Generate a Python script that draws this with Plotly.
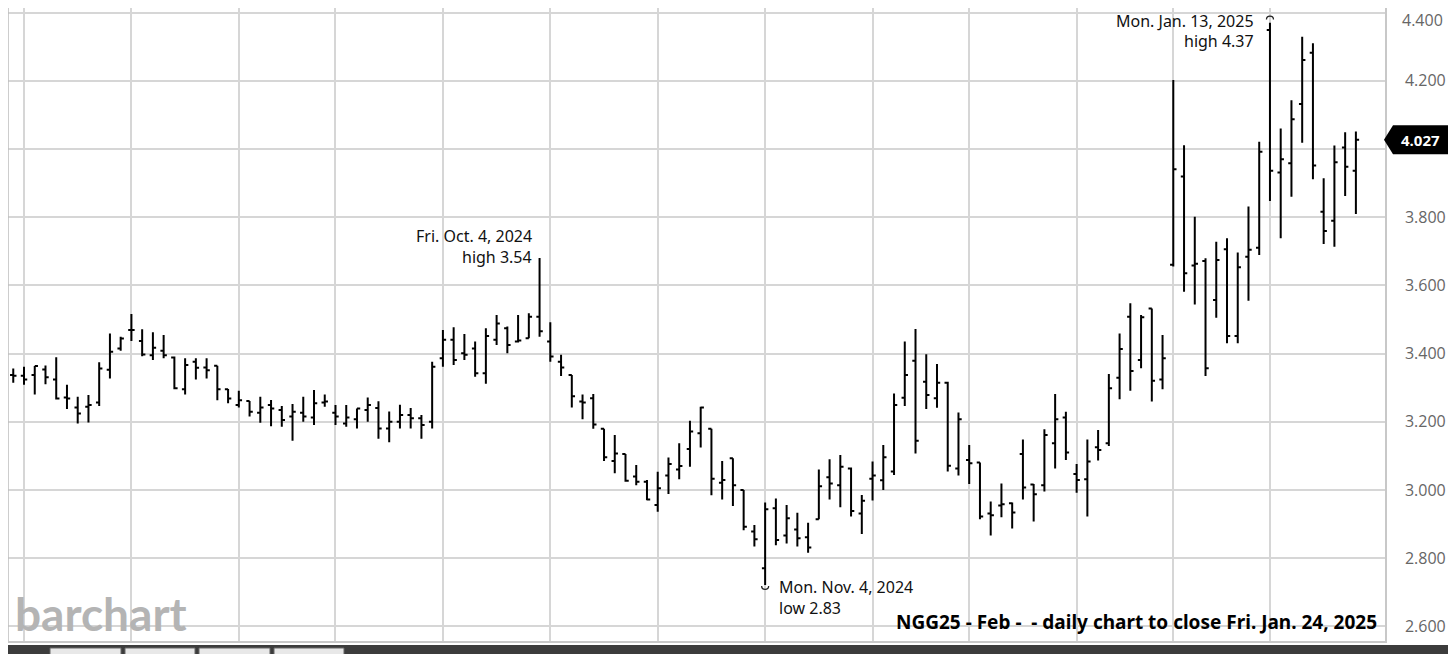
import plotly.graph_objects as go

dates = [
    "2024-07-26", "2024-07-29", "2024-07-30", "2024-07-31",
    "2024-08-01", "2024-08-02", "2024-08-05", "2024-08-06", "2024-08-07", "2024-08-08", "2024-08-09",
    "2024-08-12", "2024-08-13", "2024-08-14", "2024-08-15", "2024-08-16", "2024-08-19", "2024-08-20",
    "2024-08-21", "2024-08-22", "2024-08-23", "2024-08-26", "2024-08-27", "2024-08-28", "2024-08-29",
    "2024-08-30",
    "2024-09-03", "2024-09-04", "2024-09-05", "2024-09-06", "2024-09-09", "2024-09-10", "2024-09-11",
    "2024-09-12", "2024-09-13", "2024-09-16", "2024-09-17", "2024-09-18", "2024-09-19", "2024-09-20",
    "2024-09-23", "2024-09-24", "2024-09-25", "2024-09-26", "2024-09-27", "2024-09-30",
    "2024-10-01", "2024-10-02", "2024-10-03", "2024-10-04", "2024-10-07", "2024-10-08", "2024-10-09",
    "2024-10-10", "2024-10-11", "2024-10-14", "2024-10-15", "2024-10-16", "2024-10-17", "2024-10-18",
    "2024-10-21", "2024-10-22", "2024-10-23", "2024-10-24", "2024-10-25", "2024-10-28", "2024-10-29",
    "2024-10-30", "2024-10-31",
    "2024-11-01", "2024-11-04", "2024-11-05", "2024-11-06", "2024-11-07", "2024-11-08", "2024-11-11",
    "2024-11-12", "2024-11-13", "2024-11-14", "2024-11-15", "2024-11-18", "2024-11-19", "2024-11-20",
    "2024-11-21", "2024-11-22", "2024-11-25", "2024-11-26", "2024-11-27", "2024-11-29",
    "2024-12-02", "2024-12-03", "2024-12-04", "2024-12-05", "2024-12-06", "2024-12-09", "2024-12-10",
    "2024-12-11", "2024-12-12", "2024-12-13", "2024-12-16", "2024-12-17", "2024-12-18", "2024-12-19",
    "2024-12-20", "2024-12-23", "2024-12-24", "2024-12-26", "2024-12-27", "2024-12-30", "2024-12-31",
    "2025-01-02", "2025-01-03", "2025-01-06", "2025-01-07", "2025-01-08", "2025-01-09", "2025-01-10",
    "2025-01-13", "2025-01-14", "2025-01-15", "2025-01-16", "2025-01-17", "2025-01-21", "2025-01-22",
    "2025-01-23", "2025-01-24",
]

opens = [
    3.337, 3.335, 3.337, 3.353, 3.324, 3.271, 3.242, 3.244, 3.256, 3.352,
    3.415, 3.469, 3.437, 3.395, 3.408, 3.388, 3.295, 3.376, 3.359, 3.364,
    3.295, 3.249, 3.261, 3.226, 3.249, 3.234, 3.215, 3.226, 3.212, 3.256,
    3.226, 3.195, 3.207, 3.234, 3.240, 3.180, 3.200, 3.220, 3.210, 3.200,
    3.386, 3.440, 3.401, 3.415, 3.342, 3.440, 3.474, 3.435, 3.445, 3.508,
    3.435, 3.376, 3.337, 3.259, 3.269, 3.179, 3.085, 3.105, 3.039, 3.024,
    2.956, 3.042, 3.060, 3.120, 3.166, 3.179, 3.021, 3.093, 3.000, 2.878,
    2.770, 2.946, 2.866, 2.884, 2.861, 2.914, 3.037, 3.014, 3.063, 2.931,
    3.033, 3.028, 3.054, 3.270, 3.379, 3.317, 3.269, 3.314, 3.063, 3.088,
    3.080, 2.931, 2.954, 2.961, 3.105, 3.016, 3.014, 3.137, 3.212, 3.047,
    3.031, 3.125, 3.137, 3.329, 3.508, 3.381, 3.532, 3.324, 3.660, 3.919,
    3.658, 3.671, 3.557, 3.706, 3.451, 3.684, 3.710, 4.349, 3.931, 3.958,
    4.132, 4.282, 3.816, 3.789, 4.004, 3.936,
]
highs = [
    3.356, 3.361, 3.363, 3.365, 3.389, 3.308, 3.273, 3.278, 3.374, 3.459,
    3.449, 3.516, 3.471, 3.462, 3.454, 3.391, 3.386, 3.386, 3.386, 3.364,
    3.296, 3.291, 3.261, 3.273, 3.264, 3.246, 3.252, 3.273, 3.293, 3.280,
    3.249, 3.249, 3.239, 3.271, 3.260, 3.230, 3.250, 3.240, 3.220, 3.376,
    3.469, 3.477, 3.457, 3.435, 3.474, 3.513, 3.479, 3.513, 3.518, 3.680,
    3.492, 3.396, 3.337, 3.280, 3.281, 3.179, 3.161, 3.105, 3.073, 3.029,
    3.053, 3.095, 3.137, 3.203, 3.244, 3.179, 3.085, 3.093, 3.000, 2.897,
    2.963, 2.975, 2.956, 2.933, 2.904, 3.060, 3.090, 3.102, 3.066, 2.985,
    3.083, 3.132, 3.283, 3.435, 3.472, 3.398, 3.369, 3.317, 3.227, 3.132,
    3.080, 2.966, 3.019, 2.963, 3.148, 3.017, 3.178, 3.281, 3.229, 3.076,
    3.148, 3.176, 3.340, 3.459, 3.547, 3.513, 3.532, 3.454, 4.202, 4.011,
    3.801, 3.679, 3.728, 3.738, 3.696, 3.831, 4.021, 4.370, 4.060, 4.143,
    4.329, 4.310, 3.914, 4.010, 4.049, 4.051,
]
lows = [
    3.314, 3.308, 3.280, 3.310, 3.265, 3.237, 3.195, 3.198, 3.246, 3.327,
    3.408, 3.437, 3.392, 3.381, 3.386, 3.295, 3.280, 3.324, 3.327, 3.263,
    3.254, 3.242, 3.215, 3.197, 3.187, 3.185, 3.144, 3.200, 3.190, 3.244,
    3.190, 3.185, 3.180, 3.200, 3.150, 3.140, 3.180, 3.180, 3.150, 3.180,
    3.361, 3.366, 3.381, 3.332, 3.311, 3.425, 3.401, 3.432, 3.445, 3.449,
    3.376, 3.334, 3.242, 3.207, 3.179, 3.085, 3.049, 3.024, 3.014, 2.970,
    2.936, 2.988, 3.031, 3.068, 3.124, 2.984, 2.972, 2.953, 2.882, 2.834,
    2.721, 2.838, 2.843, 2.834, 2.816, 2.914, 2.972, 2.949, 2.922, 2.871,
    2.969, 3.000, 3.044, 3.246, 3.107, 3.237, 3.241, 3.054, 3.042, 3.017,
    2.914, 2.866, 2.920, 2.887, 2.972, 2.907, 2.995, 3.063, 3.088, 2.992,
    2.922, 3.086, 3.129, 3.266, 3.291, 3.357, 3.259, 3.295, 3.655, 3.581,
    3.544, 3.334, 3.505, 3.430, 3.430, 3.555, 3.689, 3.847, 3.738, 3.860,
    4.018, 3.911, 3.721, 3.713, 3.862, 3.809,
]
closes = [
    3.335, 3.324, 3.363, 3.330, 3.268, 3.268, 3.224, 3.249, 3.356, 3.405,
    3.444, 3.469, 3.397, 3.417, 3.395, 3.298, 3.366, 3.358, 3.351, 3.295,
    3.268, 3.263, 3.229, 3.242, 3.239, 3.205, 3.229, 3.215, 3.254, 3.259,
    3.215, 3.212, 3.239, 3.249, 3.180, 3.200, 3.220, 3.210, 3.190, 3.361,
    3.440, 3.381, 3.396, 3.342, 3.451, 3.488, 3.425, 3.438, 3.508, 3.465,
    3.391, 3.359, 3.275, 3.256, 3.192, 3.096, 3.107, 3.027, 3.024, 2.972,
    3.005, 3.076, 3.070, 3.171, 3.242, 3.033, 3.029, 3.014, 2.892, 2.855,
    2.943, 2.853, 2.917, 2.858, 2.831, 3.011, 3.019, 3.068, 2.938, 2.968,
    3.042, 3.096, 3.249, 3.337, 3.144, 3.278, 3.314, 3.071, 3.207, 3.078,
    2.922, 2.926, 2.958, 2.934, 3.007, 2.987, 3.161, 3.207, 3.110, 3.029,
    3.083, 3.117, 3.298, 3.413, 3.349, 3.506, 3.320, 3.386, 3.940, 3.635,
    3.663, 3.357, 3.674, 3.451, 3.653, 3.704, 3.992, 3.936, 3.970, 4.087,
    4.261, 3.951, 3.759, 3.961, 3.948, 4.027,
]

grid_dates = ["2024-07-29", "2024-08-12", "2024-08-26", "2024-09-09", "2024-09-23",
              "2024-10-07", "2024-10-21", "2024-11-04", "2024-11-18", "2024-12-02",
              "2024-12-16", "2024-12-30", "2025-01-13"]
y_ticks = [2.6, 2.8, 3.0, 3.2, 3.4, 3.6, 3.8, 4.0, 4.2, 4.4]
# 4.000 is covered by the last-price box; 4.400 is placed as a text below the page edge
y_tick_text = ["2.600", "2.800", "3.000", "3.200", "3.400", "3.600", "3.800", "", "4.200", ""]
top_tick_label = "4.400"
last_label = "4.027"

# the page body has an 8px margin: figure origin sits at page (8, 8)
OFF = 8
W, H = 1456 - OFF, 654 - OFF
L, R, T, B = 0, 71, 0, 13
PW, PH = W - L - R, H - T - B
Y_RANGE = [2.5569, 4.4132]
X_RANGE = [-0.49, 127.71]


def px(page_x):
    return (page_x - OFF - L) / PW


def py(page_y):
    return 1 - (page_y - OFF - T) / PH


def ix(i):
    return (i - X_RANGE[0]) / (X_RANGE[1] - X_RANGE[0])


fig = go.Figure()
fig.add_trace(go.Ohlc(
    x=dates, open=opens, high=highs, low=lows, close=closes,
    increasing=dict(line=dict(color="black", width=2)),
    decreasing=dict(line=dict(color="black", width=2)),
    tickwidth=0.3, hoverinfo="skip", showlegend=False,
))

ann_font = dict(family="Noto Sans, Open Sans, sans-serif", size=16, color="#111")
annotations = [
    dict(x=px(534), y=py(236), text="Fri. Oct. 4, 2024", xanchor="right", yanchor="middle"),
    dict(x=px(534), y=py(257), text="high 3.54", xanchor="right", yanchor="middle"),
    dict(x=px(1256), y=1.0, text="Mon. Jan. 13, 2025", xanchor="right", yanchor="top"),
    dict(x=px(1256), y=py(41), text="high 4.37", xanchor="right", yanchor="middle"),
    dict(x=px(777), y=py(587), text="Mon. Nov. 4, 2024", xanchor="left", yanchor="middle"),
    dict(x=px(777), y=py(608), text="low 2.83", xanchor="left", yanchor="middle"),
]
for a in annotations:
    a.update(xref="paper", yref="paper", showarrow=False, font=ann_font)

annotations.append(dict(
    x=px(1379), y=py(622), xref="paper", yref="paper", showarrow=False,
    text="<b>NGG25 - Feb -  - daily chart to close Fri. Jan. 24, 2025</b>",
    xanchor="right", yanchor="middle",
    font=dict(family="Noto Sans, Open Sans, sans-serif", size=19, color="#000")))
annotations.append(dict(
    x=px(13), y=py(613), xref="paper", yref="paper", showarrow=False,
    text="<b>barchart</b>", xanchor="left", yanchor="middle",
    font=dict(family="Lato, sans-serif", size=46, color="#b4b4b4")))
# top axis value, kept fully inside the figure
annotations.append(dict(
    x=px(1401), y=1.0, xref="paper", yref="paper", showarrow=False, borderpad=0,
    text=top_tick_label, xanchor="left", yanchor="top",
    font=dict(family="Open Sans, sans-serif", size=16, color="#666")))
# last price label
annotations.append(dict(
    x=px(1421), y=closes[-1], xref="paper", yref="y", showarrow=False,
    text="<b>" + last_label + "</b>", xanchor="center", yanchor="middle",
    font=dict(family="Open Sans, sans-serif", size=15, color="white")))

half = 14.5 / PH * (Y_RANGE[1] - Y_RANGE[0])
lx0, lx1, lx2 = px(1384), px(1393), px(1450)
c = closes[-1]

# small round arcs marking the annotated extremes
r_x = 3.5 / PW
r_y = 4.5 / PH
lo_x, lo_y = ix(70), py(586)
hi_x, hi_y = ix(117), py(19.5)

shapes = [
    dict(type="path", xref="paper", yref="y",
         path=f"M {lx0},{c} L {lx1},{c + half} L {lx2},{c + half} L {lx2},{c - half} L {lx1},{c - half} Z",
         fillcolor="black", line=dict(width=0)),
    dict(type="path", xref="paper", yref="paper",
         path=(f"M {lo_x - r_x},{lo_y} C {lo_x - r_x},{lo_y - r_y} {lo_x + r_x},{lo_y - r_y} "
               f"{lo_x + r_x},{lo_y}"),
         line=dict(color="#222", width=1.3)),
    dict(type="path", xref="paper", yref="paper",
         path=(f"M {hi_x - r_x},{hi_y} C {hi_x - r_x},{hi_y + r_y} {hi_x + r_x},{hi_y + r_y} "
               f"{hi_x + r_x},{hi_y}"),
         line=dict(color="#222", width=1.3)),
    dict(type="line", xref="paper", yref="paper", x0=0, x1=0, y0=0, y1=1,
         line=dict(color="#bdbdbd", width=1.5)),
    dict(type="rect", xref="paper", yref="paper", x0=px(0), x1=px(1460), y0=py(660), y1=py(645),
         fillcolor="#3c3c3c", line=dict(width=0)),
]
for x0, x1 in [(50, 121), (125, 195), (199, 270), (274, 344)]:
    shapes.append(dict(type="rect", xref="paper", yref="paper", x0=px(x0), x1=px(x1),
                       y0=py(660), y1=py(648), fillcolor="#e8e8e8",
                       line=dict(width=1, color="#666")))

fig.update_layout(
    width=W, height=H,
    margin=dict(l=L, r=R, t=T, b=B, autoexpand=False),
    paper_bgcolor="white", plot_bgcolor="white",
    showlegend=False,
    annotations=annotations, shapes=shapes,
    xaxis=dict(type="category", range=X_RANGE, tickvals=grid_dates, automargin=False,
               showticklabels=False, ticks="", showgrid=True, gridcolor="#d6d6d6", gridwidth=1.5,
               showline=True, linecolor="#c8c8c8", linewidth=1.5, zeroline=False,
               rangeslider=dict(visible=False), fixedrange=True),
    yaxis=dict(side="right", range=Y_RANGE, tickvals=y_ticks, ticktext=y_tick_text,
               automargin=False,
               showgrid=True, gridcolor="#d6d6d6", gridwidth=1.5, zeroline=False,
               showline=True, linecolor="#c8c8c8", linewidth=1.5, ticks="",
               ticklabelstandoff=15, ticklabeloverflow="allow",
               tickfont=dict(family="Open Sans, sans-serif", size=16, color="#666")),
)

fig.write_html("out.html")
